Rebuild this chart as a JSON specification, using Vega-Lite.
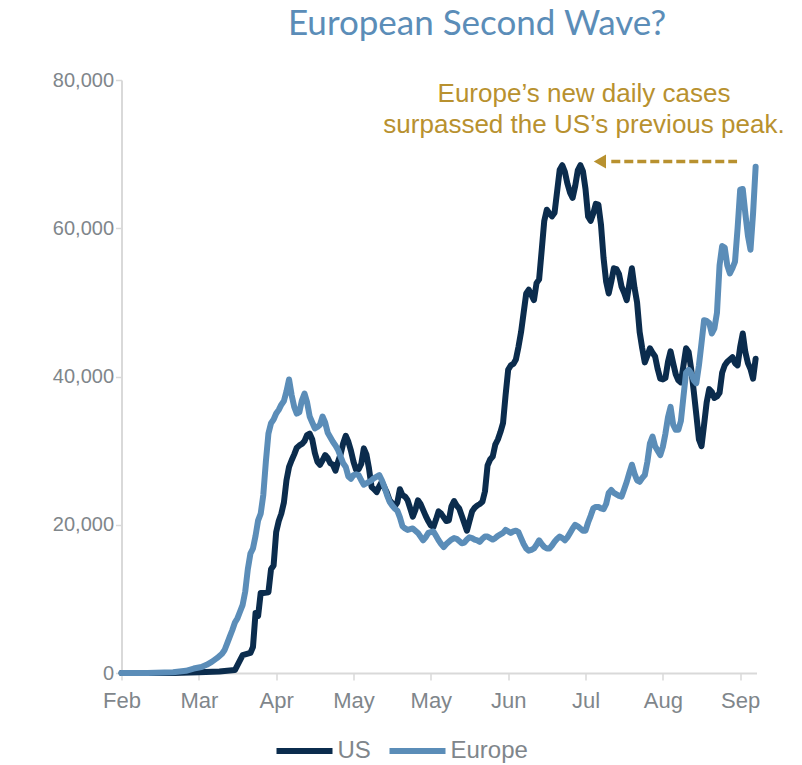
{
"$schema": "https://vega.github.io/schema/vega-lite/v6.json",
"width": 635, "height": 593,
"autosize": {"type": "none"},
"padding": {"left": 121.5, "top": 80, "right": 45.5, "bottom": 92},
"background": "white",
"config": {"view": {"stroke": null}, "font": "Liberation Sans"},
"title": {"text": "European Second Wave?", "font": "Lato", "fontSize": 35, "fontWeight": "normal", "color": "#5B8DB8", "anchor": "middle", "dx": 38, "offset": 0, "baseline": "alphabetic"},
"datasets": {
"us": [
{"date":"2020-02-01","cases":0},{"date":"2020-02-11","cases":0},{"date":"2020-02-21","cases":0},{"date":"2020-03-02","cases":100},{"date":"2020-03-10","cases":200},{"date":"2020-03-16","cases":400},{"date":"2020-03-19","cases":2400},{"date":"2020-03-22","cases":2700},{"date":"2020-03-23","cases":3500},{"date":"2020-03-24","cases":8100},{"date":"2020-03-25","cases":7700},{"date":"2020-03-26","cases":10800},{"date":"2020-03-27","cases":10800},{"date":"2020-03-29","cases":10900},{"date":"2020-03-30","cases":14000},{"date":"2020-03-31","cases":14500},
{"date":"2020-04-01","cases":19000},{"date":"2020-04-02","cases":20500},{"date":"2020-04-03","cases":21500},{"date":"2020-04-04","cases":23000},{"date":"2020-04-05","cases":26000},{"date":"2020-04-06","cases":27800},{"date":"2020-04-07","cases":28700},{"date":"2020-04-08","cases":29500},{"date":"2020-04-09","cases":30400},{"date":"2020-04-10","cases":30700},{"date":"2020-04-11","cases":30900},{"date":"2020-04-12","cases":31300},{"date":"2020-04-13","cases":32100},{"date":"2020-04-14","cases":32300},{"date":"2020-04-15","cases":31500},{"date":"2020-04-16","cases":29700},{"date":"2020-04-17","cases":28500},{"date":"2020-04-18","cases":28100},{"date":"2020-04-19","cases":28700},{"date":"2020-04-20","cases":29400},{"date":"2020-04-21","cases":29000},{"date":"2020-04-22","cases":28300},{"date":"2020-04-23","cases":28100},{"date":"2020-04-24","cases":27300},{"date":"2020-04-25","cases":28500},{"date":"2020-04-26","cases":29500},{"date":"2020-04-27","cases":31000},{"date":"2020-04-28","cases":32000},{"date":"2020-04-29","cases":31200},{"date":"2020-04-30","cases":30000},
{"date":"2020-05-01","cases":28500},{"date":"2020-05-02","cases":27400},{"date":"2020-05-03","cases":27500},{"date":"2020-05-04","cases":28200},{"date":"2020-05-05","cases":30300},{"date":"2020-05-06","cases":29500},{"date":"2020-05-07","cases":27600},{"date":"2020-05-08","cases":25100},{"date":"2020-05-09","cases":24800},{"date":"2020-05-10","cases":24400},{"date":"2020-05-11","cases":25200},{"date":"2020-05-12","cases":25800},{"date":"2020-05-13","cases":25000},{"date":"2020-05-14","cases":24300},{"date":"2020-05-15","cases":23300},{"date":"2020-05-16","cases":22900},{"date":"2020-05-17","cases":22500},{"date":"2020-05-18","cases":23000},{"date":"2020-05-19","cases":24800},{"date":"2020-05-20","cases":24000},{"date":"2020-05-21","cases":23800},{"date":"2020-05-22","cases":23300},{"date":"2020-05-23","cases":22200},{"date":"2020-05-24","cases":21100},{"date":"2020-05-25","cases":22000},{"date":"2020-05-26","cases":23300},{"date":"2020-05-27","cases":22800},{"date":"2020-05-28","cases":22000},{"date":"2020-05-29","cases":21200},{"date":"2020-05-30","cases":20500},{"date":"2020-05-31","cases":19900},
{"date":"2020-06-01","cases":19700},{"date":"2020-06-02","cases":20700},{"date":"2020-06-03","cases":21800},{"date":"2020-06-04","cases":21500},{"date":"2020-06-05","cases":21000},{"date":"2020-06-06","cases":20500},{"date":"2020-06-07","cases":20600},{"date":"2020-06-08","cases":22500},{"date":"2020-06-09","cases":23200},{"date":"2020-06-10","cases":22600},{"date":"2020-06-11","cases":22200},{"date":"2020-06-12","cases":21200},{"date":"2020-06-13","cases":20200},{"date":"2020-06-14","cases":19200},{"date":"2020-06-15","cases":20500},{"date":"2020-06-16","cases":21800},{"date":"2020-06-17","cases":22300},{"date":"2020-06-18","cases":22600},{"date":"2020-06-19","cases":22800},{"date":"2020-06-20","cases":23100},{"date":"2020-06-21","cases":24500},{"date":"2020-06-22","cases":28000},{"date":"2020-06-23","cases":28800},{"date":"2020-06-24","cases":29200},{"date":"2020-06-25","cases":30800},{"date":"2020-06-26","cases":31500},{"date":"2020-06-27","cases":32500},{"date":"2020-06-28","cases":33700},{"date":"2020-06-29","cases":37500},{"date":"2020-06-30","cases":40900},
{"date":"2020-07-01","cases":41500},{"date":"2020-07-02","cases":41700},{"date":"2020-07-03","cases":42300},{"date":"2020-07-04","cases":44000},{"date":"2020-07-05","cases":46000},{"date":"2020-07-06","cases":48600},{"date":"2020-07-07","cases":51200},{"date":"2020-07-08","cases":51700},{"date":"2020-07-09","cases":51000},{"date":"2020-07-10","cases":50300},{"date":"2020-07-11","cases":52600},{"date":"2020-07-12","cases":53100},{"date":"2020-07-13","cases":57000},{"date":"2020-07-14","cases":61000},{"date":"2020-07-15","cases":62500},{"date":"2020-07-16","cases":62000},{"date":"2020-07-17","cases":61600},{"date":"2020-07-18","cases":62100},{"date":"2020-07-19","cases":65000},{"date":"2020-07-20","cases":67900},{"date":"2020-07-21","cases":68500},{"date":"2020-07-22","cases":67600},{"date":"2020-07-23","cases":66000},{"date":"2020-07-24","cases":64800},{"date":"2020-07-25","cases":64100},{"date":"2020-07-26","cases":65700},{"date":"2020-07-27","cases":67800},{"date":"2020-07-28","cases":68500},{"date":"2020-07-29","cases":67700},{"date":"2020-07-30","cases":65300},{"date":"2020-07-31","cases":61600},
{"date":"2020-08-01","cases":61000},{"date":"2020-08-02","cases":62000},{"date":"2020-08-03","cases":63300},{"date":"2020-08-04","cases":63200},{"date":"2020-08-05","cases":60500},{"date":"2020-08-06","cases":56000},{"date":"2020-08-07","cases":52800},{"date":"2020-08-08","cases":51200},{"date":"2020-08-09","cases":52800},{"date":"2020-08-10","cases":54600},{"date":"2020-08-11","cases":54500},{"date":"2020-08-12","cases":53800},{"date":"2020-08-13","cases":52100},{"date":"2020-08-14","cases":51300},{"date":"2020-08-15","cases":50300},{"date":"2020-08-16","cases":52500},{"date":"2020-08-17","cases":54600},{"date":"2020-08-18","cases":52000},{"date":"2020-08-19","cases":50000},{"date":"2020-08-20","cases":46000},{"date":"2020-08-21","cases":43800},{"date":"2020-08-22","cases":41900},{"date":"2020-08-23","cases":42800},{"date":"2020-08-24","cases":43800},{"date":"2020-08-25","cases":43200},{"date":"2020-08-26","cases":42700},{"date":"2020-08-27","cases":41000},{"date":"2020-08-28","cases":39700},{"date":"2020-08-29","cases":39600},{"date":"2020-08-30","cases":39800},{"date":"2020-08-31","cases":42000},
{"date":"2020-09-01","cases":43400},{"date":"2020-09-02","cases":41800},{"date":"2020-09-03","cases":40300},{"date":"2020-09-04","cases":39500},{"date":"2020-09-05","cases":39200},{"date":"2020-09-06","cases":41500},{"date":"2020-09-07","cases":43800},{"date":"2020-09-08","cases":43300},{"date":"2020-09-09","cases":41000},{"date":"2020-09-10","cases":38000},{"date":"2020-09-11","cases":34800},{"date":"2020-09-12","cases":31500},{"date":"2020-09-13","cases":30600},{"date":"2020-09-14","cases":33500},{"date":"2020-09-15","cases":36500},{"date":"2020-09-16","cases":38300},{"date":"2020-09-17","cases":37900},{"date":"2020-09-18","cases":37100},{"date":"2020-09-19","cases":37300},{"date":"2020-09-20","cases":37800},{"date":"2020-09-21","cases":40500},{"date":"2020-09-22","cases":41500},{"date":"2020-09-23","cases":42000},{"date":"2020-09-24","cases":42300},{"date":"2020-09-25","cases":42600},{"date":"2020-09-26","cases":41800},{"date":"2020-09-27","cases":41500},{"date":"2020-09-28","cases":44000},{"date":"2020-09-29","cases":45800},{"date":"2020-09-30","cases":43300},
{"date":"2020-10-01","cases":41800},{"date":"2020-10-02","cases":41000},{"date":"2020-10-03","cases":39700},{"date":"2020-10-04","cases":42400}
],
"europe": [
{"date":"2020-02-01","cases":0},{"date":"2020-02-11","cases":0},{"date":"2020-02-21","cases":100},{"date":"2020-02-26","cases":300},{"date":"2020-02-29","cases":600},{"date":"2020-03-03","cases":800},{"date":"2020-03-05","cases":1100},{"date":"2020-03-07","cases":1500},{"date":"2020-03-09","cases":2000},{"date":"2020-03-11","cases":2600},{"date":"2020-03-12","cases":3100},{"date":"2020-03-13","cases":4000},{"date":"2020-03-14","cases":4900},{"date":"2020-03-15","cases":5800},{"date":"2020-03-16","cases":6800},{"date":"2020-03-17","cases":7400},{"date":"2020-03-18","cases":8300},{"date":"2020-03-19","cases":9200},{"date":"2020-03-20","cases":11000},{"date":"2020-03-21","cases":14000},{"date":"2020-03-22","cases":16100},{"date":"2020-03-23","cases":16800},{"date":"2020-03-24","cases":18500},{"date":"2020-03-25","cases":20600},{"date":"2020-03-26","cases":21500},{"date":"2020-03-27","cases":24000},{"date":"2020-03-28","cases":28500},{"date":"2020-03-29","cases":32300},{"date":"2020-03-30","cases":33700},{"date":"2020-03-31","cases":34200},
{"date":"2020-04-01","cases":35000},{"date":"2020-04-02","cases":35500},{"date":"2020-04-03","cases":36200},{"date":"2020-04-04","cases":36700},{"date":"2020-04-05","cases":38000},{"date":"2020-04-06","cases":39600},{"date":"2020-04-07","cases":37500},{"date":"2020-04-08","cases":35900},{"date":"2020-04-09","cases":35000},{"date":"2020-04-10","cases":35200},{"date":"2020-04-11","cases":36800},{"date":"2020-04-12","cases":37700},{"date":"2020-04-13","cases":36500},{"date":"2020-04-14","cases":34600},{"date":"2020-04-15","cases":33800},{"date":"2020-04-16","cases":33000},{"date":"2020-04-17","cases":33200},{"date":"2020-04-18","cases":33500},{"date":"2020-04-19","cases":34600},{"date":"2020-04-20","cases":33800},{"date":"2020-04-21","cases":32400},{"date":"2020-04-22","cases":31800},{"date":"2020-04-23","cases":31200},{"date":"2020-04-24","cases":30700},{"date":"2020-04-25","cases":30100},{"date":"2020-04-26","cases":29200},{"date":"2020-04-27","cases":28300},{"date":"2020-04-28","cases":27800},{"date":"2020-04-29","cases":26500},{"date":"2020-04-30","cases":26200},
{"date":"2020-05-01","cases":26700},{"date":"2020-05-02","cases":26800},{"date":"2020-05-03","cases":26700},{"date":"2020-05-04","cases":26000},{"date":"2020-05-05","cases":25400},{"date":"2020-05-06","cases":25600},{"date":"2020-05-07","cases":25800},{"date":"2020-05-08","cases":26000},{"date":"2020-05-09","cases":26300},{"date":"2020-05-10","cases":26500},{"date":"2020-05-11","cases":26700},{"date":"2020-05-12","cases":26000},{"date":"2020-05-13","cases":25100},{"date":"2020-05-14","cases":24000},{"date":"2020-05-15","cases":23100},{"date":"2020-05-16","cases":22600},{"date":"2020-05-17","cases":22200},{"date":"2020-05-18","cases":21900},{"date":"2020-05-19","cases":21000},{"date":"2020-05-20","cases":19800},{"date":"2020-05-21","cases":19500},{"date":"2020-05-22","cases":19300},{"date":"2020-05-23","cases":19400},{"date":"2020-05-24","cases":19500},{"date":"2020-05-25","cases":19200},{"date":"2020-05-26","cases":18900},{"date":"2020-05-27","cases":18400},{"date":"2020-05-28","cases":17900},{"date":"2020-05-29","cases":18300},{"date":"2020-05-30","cases":18900},{"date":"2020-05-31","cases":19000},
{"date":"2020-06-01","cases":19100},{"date":"2020-06-02","cases":18500},{"date":"2020-06-03","cases":17900},{"date":"2020-06-04","cases":17400},{"date":"2020-06-05","cases":17000},{"date":"2020-06-06","cases":17400},{"date":"2020-06-07","cases":17700},{"date":"2020-06-08","cases":18000},{"date":"2020-06-09","cases":18200},{"date":"2020-06-10","cases":18100},{"date":"2020-06-11","cases":17800},{"date":"2020-06-12","cases":17500},{"date":"2020-06-13","cases":17600},{"date":"2020-06-14","cases":18000},{"date":"2020-06-15","cases":18300},{"date":"2020-06-16","cases":18200},{"date":"2020-06-17","cases":18000},{"date":"2020-06-18","cases":17900},{"date":"2020-06-19","cases":17700},{"date":"2020-06-20","cases":18100},{"date":"2020-06-21","cases":18400},{"date":"2020-06-22","cases":18400},{"date":"2020-06-23","cases":18200},{"date":"2020-06-24","cases":18000},{"date":"2020-06-25","cases":18200},{"date":"2020-06-26","cases":18500},{"date":"2020-06-27","cases":18700},{"date":"2020-06-28","cases":18900},{"date":"2020-06-29","cases":19300},{"date":"2020-06-30","cases":19100},
{"date":"2020-07-01","cases":18900},{"date":"2020-07-02","cases":19100},{"date":"2020-07-03","cases":19200},{"date":"2020-07-04","cases":19000},{"date":"2020-07-05","cases":18200},{"date":"2020-07-06","cases":17400},{"date":"2020-07-07","cases":16800},{"date":"2020-07-08","cases":16500},{"date":"2020-07-09","cases":16600},{"date":"2020-07-10","cases":16800},{"date":"2020-07-11","cases":17300},{"date":"2020-07-12","cases":17900},{"date":"2020-07-13","cases":17400},{"date":"2020-07-14","cases":17000},{"date":"2020-07-15","cases":16800},{"date":"2020-07-16","cases":16800},{"date":"2020-07-17","cases":17200},{"date":"2020-07-18","cases":17700},{"date":"2020-07-19","cases":18100},{"date":"2020-07-20","cases":18400},{"date":"2020-07-21","cases":18200},{"date":"2020-07-22","cases":17900},{"date":"2020-07-23","cases":18300},{"date":"2020-07-24","cases":18900},{"date":"2020-07-25","cases":19500},{"date":"2020-07-26","cases":20000},{"date":"2020-07-27","cases":19800},{"date":"2020-07-28","cases":19500},{"date":"2020-07-29","cases":19200},{"date":"2020-07-30","cases":19200},{"date":"2020-07-31","cases":20300},
{"date":"2020-08-01","cases":21200},{"date":"2020-08-02","cases":22200},{"date":"2020-08-03","cases":22400},{"date":"2020-08-04","cases":22400},{"date":"2020-08-05","cases":22200},{"date":"2020-08-06","cases":22100},{"date":"2020-08-07","cases":22800},{"date":"2020-08-08","cases":24300},{"date":"2020-08-09","cases":24700},{"date":"2020-08-10","cases":24300},{"date":"2020-08-11","cases":24100},{"date":"2020-08-12","cases":23900},{"date":"2020-08-13","cases":23800},{"date":"2020-08-14","cases":24800},{"date":"2020-08-15","cases":25800},{"date":"2020-08-16","cases":27000},{"date":"2020-08-17","cases":28100},{"date":"2020-08-18","cases":26900},{"date":"2020-08-19","cases":26000},{"date":"2020-08-20","cases":25800},{"date":"2020-08-21","cases":26300},{"date":"2020-08-22","cases":26700},{"date":"2020-08-23","cases":28500},{"date":"2020-08-24","cases":31000},{"date":"2020-08-25","cases":31900},{"date":"2020-08-26","cases":30600},{"date":"2020-08-27","cases":30000},{"date":"2020-08-28","cases":29400},{"date":"2020-08-29","cases":30500},{"date":"2020-08-30","cases":32300},{"date":"2020-08-31","cases":34500},
{"date":"2020-09-01","cases":35900},{"date":"2020-09-02","cases":33500},{"date":"2020-09-03","cases":32800},{"date":"2020-09-04","cases":32800},{"date":"2020-09-05","cases":34000},{"date":"2020-09-06","cases":37300},{"date":"2020-09-07","cases":40500},{"date":"2020-09-08","cases":40900},{"date":"2020-09-09","cases":40400},{"date":"2020-09-10","cases":39500},{"date":"2020-09-11","cases":39100},{"date":"2020-09-12","cases":41500},{"date":"2020-09-13","cases":44500},{"date":"2020-09-14","cases":47600},{"date":"2020-09-15","cases":47500},{"date":"2020-09-16","cases":47200},{"date":"2020-09-17","cases":45800},{"date":"2020-09-18","cases":46500},{"date":"2020-09-19","cases":48600},{"date":"2020-09-20","cases":55000},{"date":"2020-09-21","cases":57600},{"date":"2020-09-22","cases":57400},{"date":"2020-09-23","cases":55000},{"date":"2020-09-24","cases":53900},{"date":"2020-09-25","cases":54600},{"date":"2020-09-26","cases":55500},{"date":"2020-09-27","cases":60000},{"date":"2020-09-28","cases":65200},{"date":"2020-09-29","cases":65300},{"date":"2020-09-30","cases":62000},
{"date":"2020-10-01","cases":59000},{"date":"2020-10-02","cases":57100},{"date":"2020-10-03","cases":62000},{"date":"2020-10-04","cases":68300}
]
},
"layer": [
{"data": {"name": "us"},
 "mark": {"type": "line", "strokeWidth": 6, "strokeJoin": "round", "strokeCap": "round"},
 "encoding": {
  "x": {"field": "date", "type": "temporal",
   "scale": {"type": "utc", "nice": false, "domain": [{"year": 2020, "month": 2, "date": 1, "utc": true}, {"year": 2020, "month": 10, "date": 4, "hours": 8, "utc": true}]},
   "axis": {"title": null, "grid": false, "labelFlush": false,
    "values": [{"year": 2020, "month": 2, "date": 1, "utc": true}, {"year": 2020, "month": 3, "date": 2, "utc": true}, {"year": 2020, "month": 4, "date": 1, "utc": true}, {"year": 2020, "month": 5, "date": 1, "utc": true}, {"year": 2020, "month": 5, "date": 31, "utc": true}, {"year": 2020, "month": 6, "date": 30, "utc": true}, {"year": 2020, "month": 7, "date": 30, "utc": true}, {"year": 2020, "month": 8, "date": 29, "utc": true}, {"year": 2020, "month": 9, "date": 28, "utc": true}],
    "labelExpr": "utcFormat(datum.value, '%b')",
    "domainColor": "#D9D9D9", "domainWidth": 2, "tickColor": "#D9D9D9", "tickWidth": 1.5, "tickSize": 7,
    "labelFont": "Liberation Sans", "labelFontSize": 22, "labelColor": "#7F868B", "labelPadding": 10}},
  "y": {"field": "cases", "type": "quantitative",
   "scale": {"domain": [0, 80000], "nice": false},
   "axis": {"title": null, "grid": false, "values": [0, 20000, 40000, 60000, 80000], "format": ",.0f",
    "domainColor": "#D9D9D9", "domainWidth": 2, "tickColor": "#D9D9D9", "tickWidth": 1.5, "tickSize": 6,
    "labelFont": "Liberation Sans", "labelFontSize": 20, "labelColor": "#7F868B", "labelPadding": 2}},
  "color": {"datum": "US", "type": "nominal",
   "scale": {"domain": ["US", "Europe"], "range": ["#0B2C4D", "#5B8DB8"]},
   "legend": {"orient": "none", "legendX": 152, "legendY": 640, "direction": "horizontal", "title": null,
    "symbolType": "stroke", "symbolSize": 3136, "symbolStrokeWidth": 6,
    "labelFont": "Liberation Sans", "labelFontSize": 24, "labelColor": "#7F868B", "labelOffset": 2, "columnPadding": 6}}
 }},
{"data": {"name": "europe"},
 "mark": {"type": "line", "strokeWidth": 6, "strokeJoin": "round", "strokeCap": "round"},
 "encoding": {
  "x": {"field": "date", "type": "temporal"},
  "y": {"field": "cases", "type": "quantitative"},
  "color": {"datum": "Europe", "type": "nominal"}
 }},
{"data": {"values": [{}]},
 "mark": {"type": "rule", "color": "#B8912F", "strokeWidth": 3.5, "strokeDash": [9, 4]},
 "encoding": {
  "x": {"datum": {"year": 2020, "month": 8, "date": 9, "utc": true}, "type": "temporal"},
  "x2": {"datum": {"year": 2020, "month": 9, "date": 26, "hours": 19, "utc": true}},
  "y": {"datum": 69000, "type": "quantitative"}
 }},
{"data": {"values": [{}]},
 "mark": {"type": "point", "shape": "triangle-left", "filled": true, "size": 200, "color": "#B8912F", "opacity": 1},
 "encoding": {
  "x": {"datum": {"year": 2020, "month": 8, "date": 4, "hours": 14, "utc": true}, "type": "temporal"},
  "y": {"datum": 69000, "type": "quantitative"}
 }},
{"data": {"values": [{}]},
 "mark": {"type": "text", "text": ["Europe\u2019s new daily cases", "surpassed the US\u2019s previous peak."], "align": "center", "baseline": "alphabetic", "font": "Liberation Sans", "fontSize": 26, "lineHeight": 31, "color": "#B8912F"},
 "encoding": {
  "x": {"datum": {"year": 2020, "month": 7, "date": 29, "hours": 10, "utc": true}, "type": "temporal"},
  "y": {"datum": 77030, "type": "quantitative"}
 }}
]
}
